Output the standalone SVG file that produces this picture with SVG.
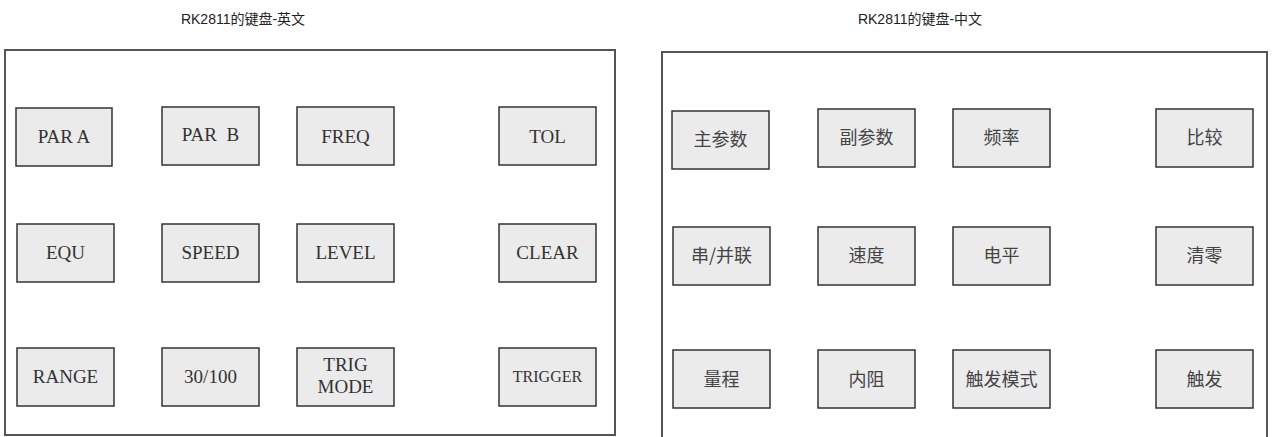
<svg xmlns="http://www.w3.org/2000/svg" width="1272" height="437" viewBox="0 0 1272 437">
<style>
.panel{fill:#fff;stroke:#555;stroke-width:2}
.key{fill:#ebebeb;stroke:#333;stroke-width:1.5}
.t{font-family:'Liberation Serif','DejaVu Serif',serif;font-size:19px;fill:#333;text-anchor:middle}
.cn{font-family:'Noto Sans CJK SC',sans-serif;font-size:18px;fill:#444;text-anchor:middle}
.title{font-family:'Liberation Sans','Noto Sans CJK SC',sans-serif;font-size:14px;fill:#222;text-anchor:middle}
</style>
<rect width="1272" height="437" fill="#fff"/>
<g id="title-en"><text class="title" x="243" y="24">RK2811的键盘-英文</text></g>
<g id="title-cn"><text class="title" x="920" y="24">RK2811的键盘-中文</text></g>
<g id="panel-en"><rect class="panel" x="5" y="50" width="610" height="385"/></g>
<g id="panel-cn"><rect class="panel" x="662" y="52" width="605" height="395"/></g>

<g id="k-para"><rect class="key" x="16" y="108" width="96" height="58"/><text class="t" x="64" y="143">PAR A</text></g>
<g id="k-parb"><rect class="key" x="162" y="107" width="97" height="58"/><text class="t" x="210.5" y="141" xml:space="preserve">PAR  B</text></g>
<g id="k-freq"><rect class="key" x="297" y="107" width="97" height="58"/><text class="t" x="345.5" y="143">FREQ</text></g>
<g id="k-tol"><rect class="key" x="499" y="107" width="97" height="58"/><text class="t" x="547.5" y="143">TOL</text></g>

<g id="k-equ"><rect class="key" x="17" y="224" width="97" height="58"/><text class="t" x="65.5" y="259">EQU</text></g>
<g id="k-speed"><rect class="key" x="162" y="224" width="97" height="58"/><text class="t" x="210.5" y="259">SPEED</text></g>
<g id="k-level"><rect class="key" x="297" y="224" width="97" height="58"/><text class="t" x="345.5" y="259">LEVEL</text></g>
<g id="k-clear"><rect class="key" x="499" y="224" width="97" height="58"/><text class="t" x="547.5" y="259">CLEAR</text></g>

<g id="k-range"><rect class="key" x="17" y="348" width="97" height="58"/><text class="t" x="65.5" y="383">RANGE</text></g>
<g id="k-30100"><rect class="key" x="162" y="348" width="97" height="58"/><text class="t" x="210.5" y="383">30/100</text></g>
<g id="k-trigmode"><rect class="key" x="297" y="348" width="97" height="58"/><text class="t" x="345.5" y="371">TRIG</text><text class="t" x="345.5" y="393">MODE</text></g>
<g id="k-trigger"><rect class="key" x="499" y="348" width="97" height="58"/><text class="t" x="547.5" y="382" style="font-size:16px">TRIGGER</text></g>

<g id="c-main"><rect class="key" x="672" y="111" width="97" height="58"/><text class="cn" x="720.5" y="146">主参数</text></g>
<g id="c-sub"><rect class="key" x="818" y="109" width="97" height="58"/><text class="cn" x="866.5" y="144">副参数</text></g>
<g id="c-freq"><rect class="key" x="953" y="109" width="97" height="58"/><text class="cn" x="1001.5" y="144">频率</text></g>
<g id="c-tol"><rect class="key" x="1156" y="109" width="97" height="58"/><text class="cn" x="1204.5" y="144">比较</text></g>

<g id="c-equ"><rect class="key" x="673" y="227" width="97" height="58"/><text class="cn" x="721.5" y="262">串/并联</text></g>
<g id="c-speed"><rect class="key" x="818" y="227" width="97" height="58"/><text class="cn" x="866.5" y="262">速度</text></g>
<g id="c-level"><rect class="key" x="953" y="227" width="97" height="58"/><text class="cn" x="1001.5" y="262">电平</text></g>
<g id="c-clear"><rect class="key" x="1156" y="227" width="97" height="58"/><text class="cn" x="1204.5" y="262">清零</text></g>

<g id="c-range"><rect class="key" x="673" y="350" width="97" height="58"/><text class="cn" x="721.5" y="386">量程</text></g>
<g id="c-res"><rect class="key" x="818" y="350" width="97" height="58"/><text class="cn" x="866.5" y="386">内阻</text></g>
<g id="c-trigmode"><rect class="key" x="953" y="350" width="97" height="58"/><text class="cn" x="1001.5" y="386">触发模式</text></g>
<g id="c-trigger"><rect class="key" x="1156" y="350" width="97" height="58"/><text class="cn" x="1204.5" y="386">触发</text></g>
<g id="connectors"></g>
</svg>
